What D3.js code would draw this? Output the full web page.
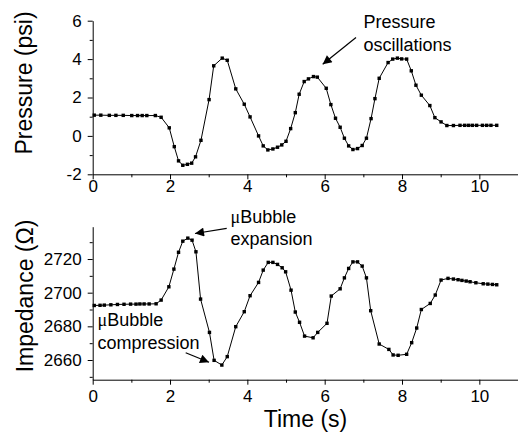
<!DOCTYPE html>
<html lang="en">

<head>
    <meta charset="UTF-8">
    <title>Pressure and Impedance vs Time</title>
    <script src="https://d3js.org/d3.v7.min.js"></script>
    <style>
        body {
            margin: 0;
            background: #ffffff;
        }

        svg text {
            font-family: "Liberation Sans", Arial, sans-serif;
            fill: #000;
        }

        .axis path,
        .axis line {
            stroke: #000;
            stroke-width: 1px;
        }
    </style>
</head>

<body>
    <div id="chart"></div>

    <script>
        // x tick labels (shared by both panels)
        const timeTicks = [0, 2, 4, 6, 8, 10];

        // top panel: pressure (psi)
        const pressureTime = [0.04, 0.21, 0.43, 0.60, 0.79, 1.01, 1.16, 1.28, 1.40, 1.62,
            1.77, 1.98, 2.11, 2.22, 2.33, 2.45, 2.56, 2.66, 2.80,
            3.01, 3.13, 3.35, 3.48, 3.70, 3.92,
            4.07, 4.29, 4.41, 4.53, 4.66, 4.78, 4.89, 5.00,
            5.12, 5.24, 5.34, 5.47, 5.58, 5.71, 5.81,
            6.04, 6.16, 6.28, 6.40, 6.51, 6.62, 6.73, 6.85, 6.97,
            7.08, 7.20, 7.30, 7.41, 7.64, 7.76, 7.88, 7.99,
            8.12, 8.24, 8.36, 8.50, 8.72, 8.85,
            9.01, 9.16, 9.33, 9.50, 9.62, 9.72, 9.82, 9.93,
            10.08, 10.19, 10.30, 10.45];
        const pressure = [1.08, 1.08, 1.07, 1.07, 1.07, 1.06, 1.06, 1.06, 1.06, 1.06,
            0.97, 0.42, -0.56, -1.30, -1.53, -1.48, -1.42, -1.09, -0.23,
            1.89, 3.65, 4.05, 3.94, 2.45, 1.65,
            0.99, 0.00, -0.52, -0.73, -0.68, -0.59, -0.47, -0.28,
            0.38, 1.21, 2.17, 2.83, 2.97, 3.09, 3.06,
            2.48, 1.63, 0.92, 0.45, -0.12, -0.52, -0.71, -0.66, -0.50,
            -0.12, 0.90, 1.94, 3.00, 3.82, 4.00, 4.05, 4.01,
            4.00, 3.39, 2.64, 2.12, 1.58, 0.95,
            0.73, 0.54, 0.54, 0.55, 0.55, 0.55, 0.55, 0.55,
            0.55, 0.55, 0.55, 0.55];
        const pressureTicks = [-2, 0, 2, 4, 6];

        // bottom panel: impedance (ohm)
        const impedanceTime = [0.04, 0.19, 0.30, 0.47, 0.64, 0.81, 0.98, 1.12, 1.22, 1.33, 1.46, 1.64,
            1.77, 1.97, 2.10, 2.22, 2.33, 2.46, 2.57, 2.67, 2.79,
            3.02, 3.14, 3.34, 3.48, 3.70, 3.92,
            4.07, 4.29, 4.41, 4.54, 4.66, 4.78, 4.90, 4.99,
            5.13, 5.24, 5.35, 5.48, 5.70, 5.82,
            6.06, 6.17, 6.40, 6.51, 6.62, 6.73, 6.85, 6.97,
            7.08, 7.19, 7.41, 7.66, 7.77, 7.90,
            8.12, 8.25, 8.38, 8.50, 8.73, 8.86,
            9.01, 9.19, 9.33, 9.45, 9.55, 9.66, 9.76, 9.91,
            10.10, 10.22, 10.34, 10.45];
        const impedance = [2692.4, 2692.5, 2692.6, 2692.8, 2693.0, 2693.1, 2693.2, 2693.2, 2693.3, 2693.3, 2693.3, 2693.4,
            2695.6, 2703.5, 2714.0, 2724.0, 2730.6, 2732.4, 2731.2, 2724.3, 2696.2,
            2676.4, 2659.8, 2657.0, 2662.0, 2679.8, 2688.7,
            2698.2, 2706.1, 2713.4, 2718.0, 2718.0, 2716.8, 2714.8, 2712.4,
            2701.5, 2688.5, 2682.4, 2674.2, 2673.2, 2676.4,
            2681.8, 2698.0, 2702.3, 2708.8, 2714.4, 2718.3, 2718.3, 2715.8,
            2708.8, 2689.3, 2669.5, 2666.3, 2663.0, 2662.8,
            2663.4, 2670.3, 2679.0, 2690.0, 2693.6, 2698.6,
            2707.5, 2708.5, 2708.1, 2707.7, 2707.3, 2706.9, 2706.5, 2705.9,
            2705.3, 2705.1, 2704.9, 2704.7];
        const impedanceTicks = [2660, 2680, 2700, 2720];

        const width = 518;
        const height = 437;

        // plain integers with an ASCII hyphen, as in the original figure
        const fmt = d => String(d);

        const svg = d3.select("#chart")
            .append("svg")
            .attr("width", width)
            .attr("height", height);

        svg.append("defs").append("marker")
            .attr("id", "arrow")
            .attr("viewBox", "0 0 10 10")
            .attr("refX", 10)
            .attr("refY", 5)
            .attr("markerUnits", "userSpaceOnUse")
            .attr("markerWidth", 11)
            .attr("markerHeight", 9)
            .attr("orient", "auto")
            .append("path")
            .attr("d", "M0,0 L10,5 L0,10 Z")
            .attr("fill", "#000");

        const x = d3.scaleLinear().domain([0, 11]).range([92.7, 518]);

        function drawPanel(p) {
            const y = d3.scaleLinear().domain(p.domain).range([p.bottom, p.top]);
            const g = svg.append("g");

            // minor ticks first, majors drawn on top
            const xMinor = d3.range(1, 12, 2);
            g.append("g")
                .attr("class", "axis")
                .attr("transform", `translate(0,${p.bottom})`)
                .call(d3.axisBottom(x).tickValues(xMinor).tickSize(3).tickFormat(""))
                .call(a => a.select(".domain").remove());

            g.append("g")
                .attr("class", "axis")
                .attr("transform", `translate(0,${p.bottom})`)
                .call(d3.axisBottom(x).tickValues(timeTicks).tickSize(5).tickSizeOuter(0)
                    .tickPadding(p.xPad).tickFormat(fmt))
                .call(a => a.selectAll("text").attr("font-size", 17));

            g.append("g")
                .attr("class", "axis")
                .attr("transform", `translate(${x(0)},0)`)
                .call(d3.axisLeft(y).tickValues(p.minor).tickSize(3).tickFormat(""))
                .call(a => a.select(".domain").remove());

            g.append("g")
                .attr("class", "axis")
                .attr("transform", `translate(${x(0)},0)`)
                .call(d3.axisLeft(y).tickValues(p.ticks).tickSize(5).tickSizeOuter(0)
                    .tickPadding(6).tickFormat(fmt))
                .call(a => a.selectAll("text").attr("font-size", 17));

            const pts = p.t.map((t, i) => [t, p.v[i]]);

            g.append("path")
                .datum(pts)
                .attr("fill", "none")
                .attr("stroke", "#000")
                .attr("stroke-width", 1)
                .attr("d", d3.line().x(d => x(d[0])).y(d => y(d[1])));

            g.selectAll(".pt")
                .data(pts)
                .join("rect")
                .attr("class", "pt")
                .attr("x", d => x(d[0]) - 1.7)
                .attr("y", d => y(d[1]) - 1.7)
                .attr("width", 3.4)
                .attr("height", 3.4)
                .attr("fill", "#000");

            g.append("text")
                .attr("transform", `translate(${p.labelX},${p.labelY}) rotate(-90)`)
                .attr("text-anchor", "middle")
                .attr("font-size", 23)
                .text(p.label);
        }

        drawPanel({
            t: pressureTime, v: pressure, domain: [-2, 6], top: 20.7, bottom: 174.3,
            ticks: pressureTicks, minor: [-1, 1, 3, 5], xPad: 1,
            label: "Pressure (psi)", labelX: 32, labelY: 83
        });

        drawPanel({
            t: impedanceTime, v: impedance, domain: [2648.3, 2739.2], top: 226.7, bottom: 379.7,
            ticks: impedanceTicks, minor: [2650, 2670, 2690, 2710, 2730], xPad: 5,
            label: "Impedance (\u03a9)", labelX: 33, labelY: 296
        });

        svg.append("text")
            .attr("x", 305.5)
            .attr("y", 427)
            .attr("text-anchor", "middle")
            .attr("font-size", 23)
            .text("Time (s)");

        // annotations
        function note(lines, px, py, lh) {
            const t = svg.append("text").attr("font-size", 18);
            lines.forEach((ln, i) => {
                const row = t.append("tspan").attr("x", px).attr("y", py + i * lh);
                if (ln.startsWith("\u03bc")) {
                    row.append("tspan").attr("font-family", "'Liberation Serif', serif").text("\u03bc");
                    row.append("tspan").text(ln.slice(1));
                } else {
                    row.text(ln);
                }
            });
        }

        function arrow(x1, y1, x2, y2) {
            svg.append("line")
                .attr("x1", x1).attr("y1", y1)
                .attr("x2", x2).attr("y2", y2)
                .attr("stroke", "#000")
                .attr("stroke-width", 1.2)
                .attr("marker-end", "url(#arrow)");
        }

        note(["Pressure", "oscillations"], 363.5, 28, 23);
        arrow(356, 37.5, 322.7, 64.3);

        note(["\u03bcBubble", "expansion"], 230.5, 222.5, 22);
        arrow(226.7, 228.3, 195, 233.5);

        note(["\u03bcBubble", "compression"], 97.5, 326, 22.5);
        arrow(185.7, 352.7, 209, 362.3);
    </script>
</body>

</html>
